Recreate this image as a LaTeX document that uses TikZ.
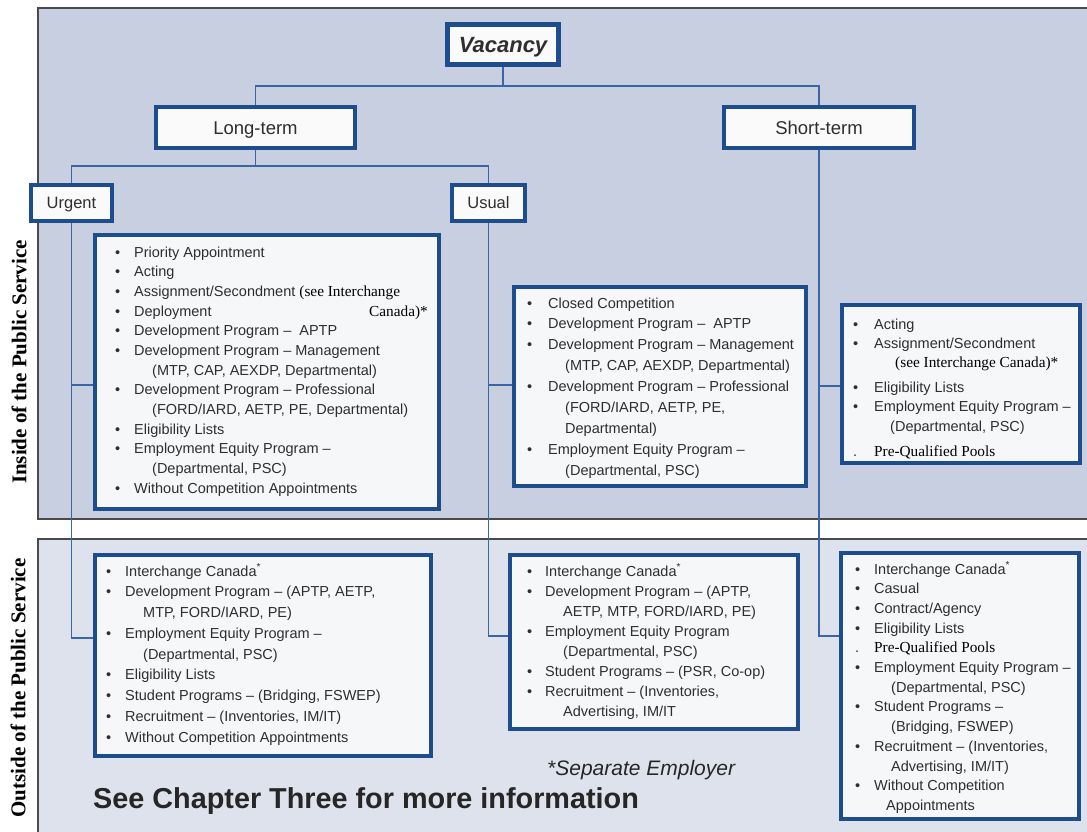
\documentclass[tikz,border=0pt]{standalone}
\usepackage{fontspec}
\setmainfont{Liberation Sans}
\newfontfamily\serifB{Liberation Serif}
\usetikzlibrary{calc}

\definecolor{panA}{HTML}{C8CFE1}
\definecolor{panB}{HTML}{DEE2ED}
\definecolor{boxblue}{HTML}{1D4D8C}
\definecolor{connc}{HTML}{3A67A3}
\definecolor{txt}{HTML}{2E2E2E}
\definecolor{boxfill}{HTML}{F6F7F9}
\definecolor{panline}{HTML}{4A4A4A}

\newlength\bd
\newlength\ci
\newcommand\Bl{\makebox[\bd][l]{\textbullet}}
\newcommand\Ct{\hspace*{\dimexpr\bd+\ci\relax}}
\newcommand\sr[1]{{\serifB\fontsize{15.3}{15}\selectfont\color{black}#1}}

\tikzset{
  hdr/.style={draw=boxblue, line width=4pt, fill=white!96!gray, inner sep=0pt, text=txt,
              text depth=0pt},
  cbox/.style={draw=boxblue, line width=4pt, fill=boxfill, inner sep=0pt},
  itemtxt/.style={anchor=base west, inner sep=0pt, text=txt},
  conn/.style={draw=connc, line width=1.5pt},
  pline/.style={draw=panline, line width=1.5pt},
}

\begin{document}
\begin{tikzpicture}[x=1pt, y=-1pt]
\useasboundingbox (0,0) rectangle (1087,831);
\clip (0,0) rectangle (1087,831);

% panels
\fill[panA] (38,8) rectangle (1100,519);
\draw[pline] (1100,8) -- (38,8) -- (38,519) -- (1100,519);
\fill[panB] (38,539) rectangle (1100,845);
\draw[pline] (1100,539) -- (38,539) -- (38,845);

% header boxes
\node[hdr, line width=5pt, minimum width=111pt, minimum height=40pt, text height=15.8pt,
      font=\bfseries\itshape\fontsize{22}{24}\selectfont] (vac) at (503,44.5) {Vacancy};
\node[hdr, minimum width=199pt, minimum height=41pt, text height=13.3pt,
      font=\fontsize{18.5}{20}\selectfont] (lt) at (255.5,127.5) {Long-term};
\node[hdr, minimum width=190pt, minimum height=41pt, text height=13.3pt,
      font=\fontsize{18.5}{20}\selectfont] (st) at (819,127.5) {Short-term};
\node[hdr, minimum width=81pt, minimum height=36pt, text height=11.9pt,
      font=\fontsize{16.5}{18}\selectfont] (ur) at (71.5,203) {Urgent};
\node[hdr, minimum width=73pt, minimum height=36pt, text height=11.9pt,
      font=\fontsize{16.5}{18}\selectfont] (us) at (488.5,203) {Usual};

% content boxes
\node[cbox, minimum width=344pt, minimum height=274pt] (inL) at (267,372) {};
\node[cbox, minimum width=292pt, minimum height=199pt] (inM) at (660,386.5) {};
\node[cbox, minimum width=238pt, minimum height=158pt] (inR) at (961,384) {};
\node[cbox, minimum width=336pt, minimum height=201pt] (outL) at (263,655.5) {};
\node[cbox, minimum width=288pt, minimum height=174pt] (outM) at (654,642) {};
\node[cbox, minimum width=238pt, minimum height=266pt] (outR) at (960,686) {};

% connectors
\draw[conn] (vac.south) -- (vac.south |- 0,86) coordinate (j1);
\draw[conn] (lt.north) |- (j1) -| (st.north);
\draw[conn] (lt.south) -- (lt.south |- 0,166) coordinate (j2);
\draw[conn] (ur.north) |- (j2) -| (us.north);
\draw[conn] (ur.south) |- (outL.west |- 0,638);
\draw[conn] (ur.south |- 0,385) -- (inL.west |- 0,385);
\draw[conn] (us.south) |- (outM.west |- 0,636);
\draw[conn] (us.south |- 0,385) -- (inM.west |- 0,385);
\draw[conn] (st.south) |- (outR.west |- 0,636);
\draw[conn] (st.south |- 0,386) -- (inR.west |- 0,386);

% texts of content boxes
\node[itemtxt] (inLt) at (115,257) {\setlength\bd{19pt}\setlength\ci{18pt}%
\parbox[t]{340pt}{\fontsize{14.5}{19.67}\selectfont\raggedright
\Bl Priority Appointment\\
\Bl Acting\\
\Bl Assignment/Secondment \sr{(see Interchange}\\
\Bl \makebox[235pt][l]{Deployment}\sr{Canada)*}\\
\Bl Development Program \textendash\ \ APTP\\
\Bl Development Program \textendash\ Management\\
\Ct (MTP, CAP, AEXDP, Departmental)\\
\Bl Development Program \textendash\ Professional\\
\Ct (FORD/IARD, AETP, PE, Departmental)\\
\Bl Eligibility Lists\\
\Bl Employment Equity Program \textendash\\
\Ct (Departmental, PSC)\\
\Bl Without Competition Appointments}};

\node[itemtxt] (inMt) at (527,308) {\setlength\bd{21pt}\setlength\ci{17pt}%
\parbox[t]{300pt}{\fontsize{14.5}{20.9}\selectfont\raggedright
\Bl Closed Competition\\
\Bl Development Program \textendash\ \ APTP\\
\Bl Development Program \textendash\ Management\\
\Ct (MTP, CAP, AEXDP, Departmental)\\
\Bl Development Program \textendash\ Professional\\
\Ct (FORD/IARD, AETP, PE,\\
\Ct Departmental)\\
\Bl Employment Equity Program \textendash\\
\Ct (Departmental, PSC)}};

\node[itemtxt] (inRt) at (853,329) {\setlength\bd{21pt}\setlength\ci{17pt}%
\parbox[t]{240pt}{\fontsize{14.5}{19.2}\selectfont\raggedright
\Bl Acting\\
\Bl Assignment/Secondment\\
\hspace*{42pt}\sr{(see Interchange Canada)*}\\[6pt]
\Bl Eligibility Lists\\
\Bl Employment Equity Program \textendash\\
\hspace*{37pt}(Departmental, PSC)\\[6pt]
\makebox[\bd][l]{.}\sr{Pre-Qualified Pools}}};

\node[itemtxt] (outLt) at (106,576) {\setlength\bd{19pt}\setlength\ci{18pt}%
\parbox[t]{330pt}{\fontsize{14.5}{20.75}\selectfont\raggedright
\Bl Interchange Canada\textsuperscript{*}\\
\Bl Development Program \textendash\ (APTP, AETP,\\
\Ct MTP, FORD/IARD, PE)\\
\Bl Employment Equity Program \textendash\\
\Ct (Departmental, PSC)\\
\Bl Eligibility Lists\\
\Bl Student Programs \textendash\ (Bridging, FSWEP)\\
\Bl Recruitment \textendash\ (Inventories, IM/IT)\\
\Bl Without Competition Appointments}};

\node[itemtxt] (outMt) at (527,576) {\setlength\bd{18pt}\setlength\ci{18pt}%
\parbox[t]{290pt}{\fontsize{14.5}{20.1}\selectfont\raggedright
\Bl Interchange Canada\textsuperscript{*}\\
\Bl Development Program \textendash\ (APTP,\\
\Ct AETP, MTP, FORD/IARD, PE)\\
\Bl Employment Equity Program\\
\Ct (Departmental, PSC)\\
\Bl Student Programs \textendash\ (PSR, Co-op)\\
\Bl Recruitment \textendash\ (Inventories,\\
\Ct Advertising, IM/IT}};

\node[itemtxt] (outRt) at (855,574) {\setlength\bd{19pt}\setlength\ci{17pt}%
\parbox[t]{240pt}{\fontsize{14.5}{19.7}\selectfont\raggedright
\Bl Interchange Canada\textsuperscript{*}\\
\Bl Casual\\
\Bl Contract/Agency\\
\Bl Eligibility Lists\\
\makebox[\bd][l]{.}\sr{Pre-Qualified Pools}\\
\Bl Employment Equity Program \textendash\\
\Ct (Departmental, PSC)\\
\Bl Student Programs \textendash\\
\Ct (Bridging, FSWEP)\\
\Bl Recruitment \textendash\ (Inventories,\\
\hspace*{36pt}Advertising, IM/IT)\\
\Bl Without Competition\\
\hspace*{31pt}Appointments}};

% side labels
\node[rotate=90, inner sep=0pt, font=\serifB\bfseries\fontsize{21}{22}\selectfont] (inlab) at (19,362) {Inside of the Public Service};
\node[rotate=90, inner sep=0pt, font=\serifB\bfseries\fontsize{21}{22}\selectfont] (outlab) at (18,688) {Outside of the Public Service};

% bottom notes
\node[anchor=base west, inner sep=0pt, text=black!85, font=\itshape\fontsize{21}{22}\selectfont] (sep) at (547,775) {*Separate Employer};
\node[anchor=base west, inner sep=0pt, text=black!85, font=\bfseries\fontsize{28.8}{30}\selectfont] (see) at (93,808) {See Chapter Three for more information};
\end{tikzpicture}
\end{document}
